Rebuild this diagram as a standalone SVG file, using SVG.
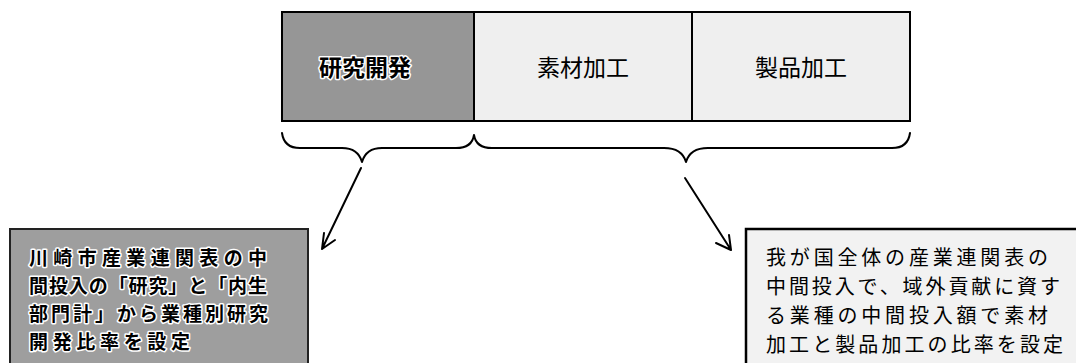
<svg xmlns="http://www.w3.org/2000/svg" width="1076" height="363" viewBox="0 0 1076 363">
<style>
.t{font-family:"Noto Sans CJK JP","Noto Sans CJK SC",sans-serif;font-size:23px;fill:#000}
.h{font-weight:bold;stroke:#fff;stroke-width:3px;paint-order:stroke;stroke-linejoin:round}
.l{font-size:19px}
.r{font-size:20px}
.dark{fill:#969696;stroke:#000;stroke-width:2}
.light{fill:#efefef;stroke:#000;stroke-width:2}
.ln{fill:none;stroke:#000;stroke-width:2;stroke-linecap:round;stroke-linejoin:round}
</style>
<rect width="1076" height="363" fill="#fff"/>
<g id="node-kenkyu">
<rect class="dark" x="282" y="12" width="192" height="109"/>
<text class="t h" x="365" y="76" text-anchor="middle">研究開発</text>
</g>
<g id="node-sozai">
<rect class="light" x="474" y="12" width="218" height="109"/>
<text class="t" x="583" y="76" text-anchor="middle">素材加工</text>
</g>
<g id="node-seihin">
<rect class="light" x="692" y="12" width="218" height="109"/>
<text class="t" x="801" y="76" text-anchor="middle">製品加工</text>
</g>
<g id="node-left">
<rect x="10" y="229" width="298" height="140" fill="#9e9e9e" stroke="#222" stroke-width="2"/>
<text class="t h l" x="29" y="265" textLength="238" lengthAdjust="spacing">川崎市産業連関表の中</text>
<text class="t h l" x="29" y="293" textLength="238" lengthAdjust="spacing">間投入の「研究」と「内生</text>
<text class="t h l" x="29" y="321" textLength="239" lengthAdjust="spacing">部門計」から業種別研究</text>
<text class="t h l" x="29" y="349" textLength="161" lengthAdjust="spacing">開発比率を設定</text>
</g>
<g id="node-right">
<rect x="746" y="229" width="340" height="140" fill="#f2f2f2" stroke="#000" stroke-width="2.5"/>
<text class="t r" x="766" y="265" textLength="282" lengthAdjust="spacing">我が国全体の産業連関表の</text>
<text class="t r" x="766" y="294" textLength="294" lengthAdjust="spacing">中間投入で、域外貢献に資す</text>
<text class="t r" x="766" y="323" textLength="282" lengthAdjust="spacing">る業種の中間投入額で素材</text>
<text class="t r" x="766" y="352" textLength="297" lengthAdjust="spacing">加工と製品加工の比率を設定</text>
</g>
<g id="connectors">
<path class="ln" d="M282,133 Q284,148 300,148 L342,148 Q358,148 362,162 Q366,148 382,148 L456,148 Q472,148 474,135 Q476,148 492,148 L664,148 Q682,148 686,162 Q690,148 708,148 L892,148 Q908,148 910,133"/>
<path class="ln" d="M361,168 L322,249 M322,249 L324,233 M322,249 L335,240"/>
<path class="ln" d="M685,178 L731,250 M731,250 L716,243 M731,250 L729,235"/>
</g>
</svg>
